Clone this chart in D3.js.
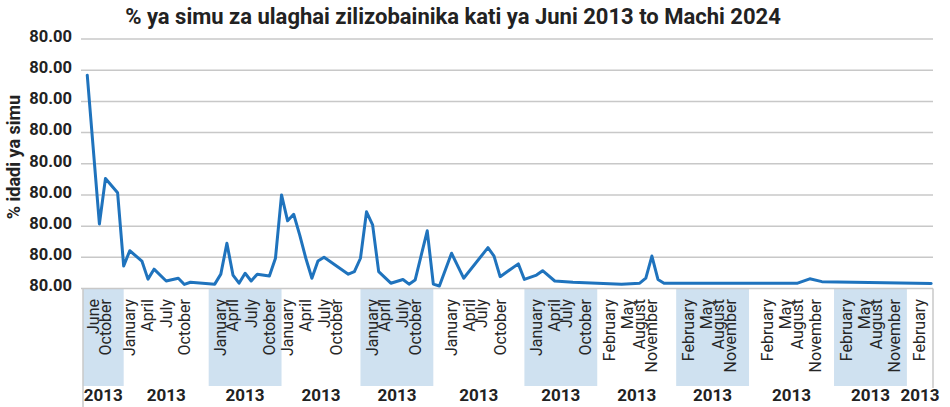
<!DOCTYPE html>
<html>
<head>
<meta charset="utf-8">
<script src="https://cdn.jsdelivr.net/npm/d3@7"></script>
<style>
  body { margin: 0; background: #fff; }
  svg { display: block; }
</style>
</head>
<body>
<svg id="chart" width="950" height="407"></svg>
<script>
// Reporting periods (sequence index) and share of fraud calls detected
const periods = [0, 2, 3, 5, 6, 7, 9, 10, 11, 13, 15, 16, 17, 21, 22, 23, 24, 25, 26, 27, 28, 30, 31, 32,
  33, 34, 35, 36, 37, 38, 39, 43, 44, 45, 46, 47, 48, 50, 52, 53, 54, 56, 57, 58, 60, 62, 66, 67, 68,
  71, 72, 74, 75, 77, 80, 88, 91, 92, 93, 94, 95, 117, 119, 121, 139];
const values = [68.4, 20.7, 35.3, 30.7, 7.2, 12.1, 8.8, 3.0, 6.2, 2.4, 3.3, 1.3, 2.0, 1.4, 4.6, 14.5, 4.3, 1.7,
  4.9, 2.4, 4.6, 4.0, 9.7, 30.0, 21.7, 23.8, 17.1, 9.7, 3.3, 8.8, 10.0, 4.6, 5.4, 9.7, 24.6, 20.4, 5.4,
  1.7, 2.9, 1.4, 2.7, 18.5, 1.4, 0.8, 11.3, 3.3, 13.1, 10.4, 3.8, 7.9, 2.9, 4.3, 5.7, 2.4, 2.0, 1.4, 1.7,
  3.3, 10.4, 2.9, 1.7, 1.7, 3.1, 2.2, 1.6];

// Value axis
const yTicks = [0, 10, 20, 30, 40, 50, 60, 70, 80];
const yTickLabels = ["80.00", "80.00", "80.00", "80.00", "80.00", "80.00", "80.00", "80.00", "80.00"];

// Year blocks on the category axis: first period of each block and its label
const yearStarts = [0, 6, 20, 32, 45, 57, 72, 84, 97, 109, 123, 135];
const yearLabels = ["2013", "2013", "2013", "2013", "2013", "2013", "2013", "2013", "2013", "2013", "2013", "2013"];

// Month tick labels and the period each one sits on
const monthLabels = ["June", "October",
  "January", "April", "July", "October",
  "January", "April", "July", "October",
  "January", "April", "July", "October",
  "January", "April", "July", "October",
  "January", "April", "July", "October",
  "January", "April", "July", "October",
  "February", "May", "August", "November",
  "February", "May", "August", "November",
  "February", "May", "August", "November",
  "February", "May", "August", "November",
  "February"];
const monthPeriods = [1, 3,
  7, 10, 13, 16,
  22, 24, 27, 30,
  33, 36, 39, 41,
  47, 49, 52, 54,
  60, 63, 65, 68,
  74, 77, 79, 82,
  86, 89, 91, 93,
  99, 102, 104, 106,
  112, 115, 117, 120,
  125, 128, 130, 133,
  137];

const titleText = "% ya simu za ulaghai zilizobainika kati ya Juni 2013 to Machi 2024";
const yAxisTitle = "% idadi ya simu";

const svg = d3.select("#chart");
const plot = { left: 83, right: 933, top: 39, bottom: 288.5 };
const bandTop = 289, bandBottom = 386;
const FONT = "Roboto, 'DejaVu Sans', sans-serif";

const x = d3.scaleLinear().domain([-0.7, 139.3]).range([plot.left, plot.right]);
const y = d3.scaleLinear().domain([0, 80]).range([plot.bottom, plot.top]);

// Title
svg.append("text")
  .attr("x", 453).attr("y", 24)
  .attr("text-anchor", "middle")
  .attr("font-family", FONT).attr("font-weight", "bold").attr("font-size", 22)
  .attr("fill", "#222")
  .text(titleText);

// Y-axis title
svg.append("text")
  .attr("transform", "translate(20,157) rotate(-90)")
  .attr("text-anchor", "middle")
  .attr("font-family", FONT).attr("font-weight", "bold").attr("font-size", 18)
  .attr("fill", "#222")
  .text(yAxisTitle);

// Alternating year bands under the plot
const bands = yearStarts.map((s, i) => ({
  x0: i === 0 ? x.range()[0] : x(s),
  x1: i === yearStarts.length - 1 ? x.range()[1] : x(yearStarts[i + 1]),
  label: yearLabels[i],
  shaded: i % 2 === 0
}));

svg.append("g").selectAll("rect")
  .data(bands.filter(b => b.shaded))
  .join("rect")
  .attr("x", d => d.x0).attr("y", bandTop)
  .attr("width", d => d.x1 - d.x0).attr("height", bandBottom - bandTop)
  .attr("fill", "#cfe1f0");

// Gridlines
svg.append("g").selectAll("line")
  .data(yTicks)
  .join("line")
  .attr("x1", plot.left - 2).attr("x2", plot.right)
  .attr("y1", d => y(d)).attr("y2", d => y(d))
  .attr("stroke", "#c8c8c8").attr("stroke-width", 1.5);

// Y tick labels via d3 axis
const yAxis = d3.axisLeft(y)
  .tickValues(yTicks)
  .tickSize(0)
  .tickPadding(0)
  .tickFormat((d, i) => yTickLabels[i]);
const gy = svg.append("g").attr("transform", "translate(72,-3)").call(yAxis);
gy.select(".domain").remove();
gy.selectAll("text")
  .attr("font-family", FONT).attr("font-weight", "bold").attr("font-size", 16.5)
  .attr("fill", "#222");

// Frame around the category label area
svg.append("line")
  .attr("x1", plot.left).attr("x2", plot.left)
  .attr("y1", plot.bottom).attr("y2", 407)
  .attr("stroke", "#c8c8c8").attr("stroke-width", 1.5);
svg.append("line")
  .attr("x1", plot.right).attr("x2", plot.right)
  .attr("y1", plot.bottom).attr("y2", bandBottom + 2)
  .attr("stroke", "#c8c8c8").attr("stroke-width", 1.5);

// Month labels, rotated
svg.append("g").selectAll("text")
  .data(monthLabels.map((m, i) => ({ m, p: monthPeriods[i] })))
  .join("text")
  .attr("transform", d => `translate(${x(d.p)},${bandTop + 10}) rotate(-90)`)
  .attr("text-anchor", "end")
  .attr("dominant-baseline", "central")
  .attr("font-family", FONT).attr("font-size", 16)
  .attr("fill", "#262626")
  .text(d => d.m);

// Year labels
svg.append("g").selectAll("text")
  .data(bands)
  .join("text")
  .attr("x", d => (d.x0 + d.x1) / 2).attr("y", 401)
  .attr("text-anchor", "middle")
  .attr("font-family", FONT).attr("font-weight", "bold").attr("font-size", 17)
  .attr("fill", "#222")
  .text(d => d.label);

// Series line
const series = periods.map((p, i) => ({ p, v: values[i] }));
svg.append("path")
  .datum(series)
  .attr("fill", "none")
  .attr("stroke", "#1f73bd")
  .attr("stroke-width", 3)
  .attr("stroke-linejoin", "round")
  .attr("stroke-linecap", "round")
  .attr("d", d3.line().x(d => x(d.p)).y(d => y(d.v)));
</script>
</body>
</html>
